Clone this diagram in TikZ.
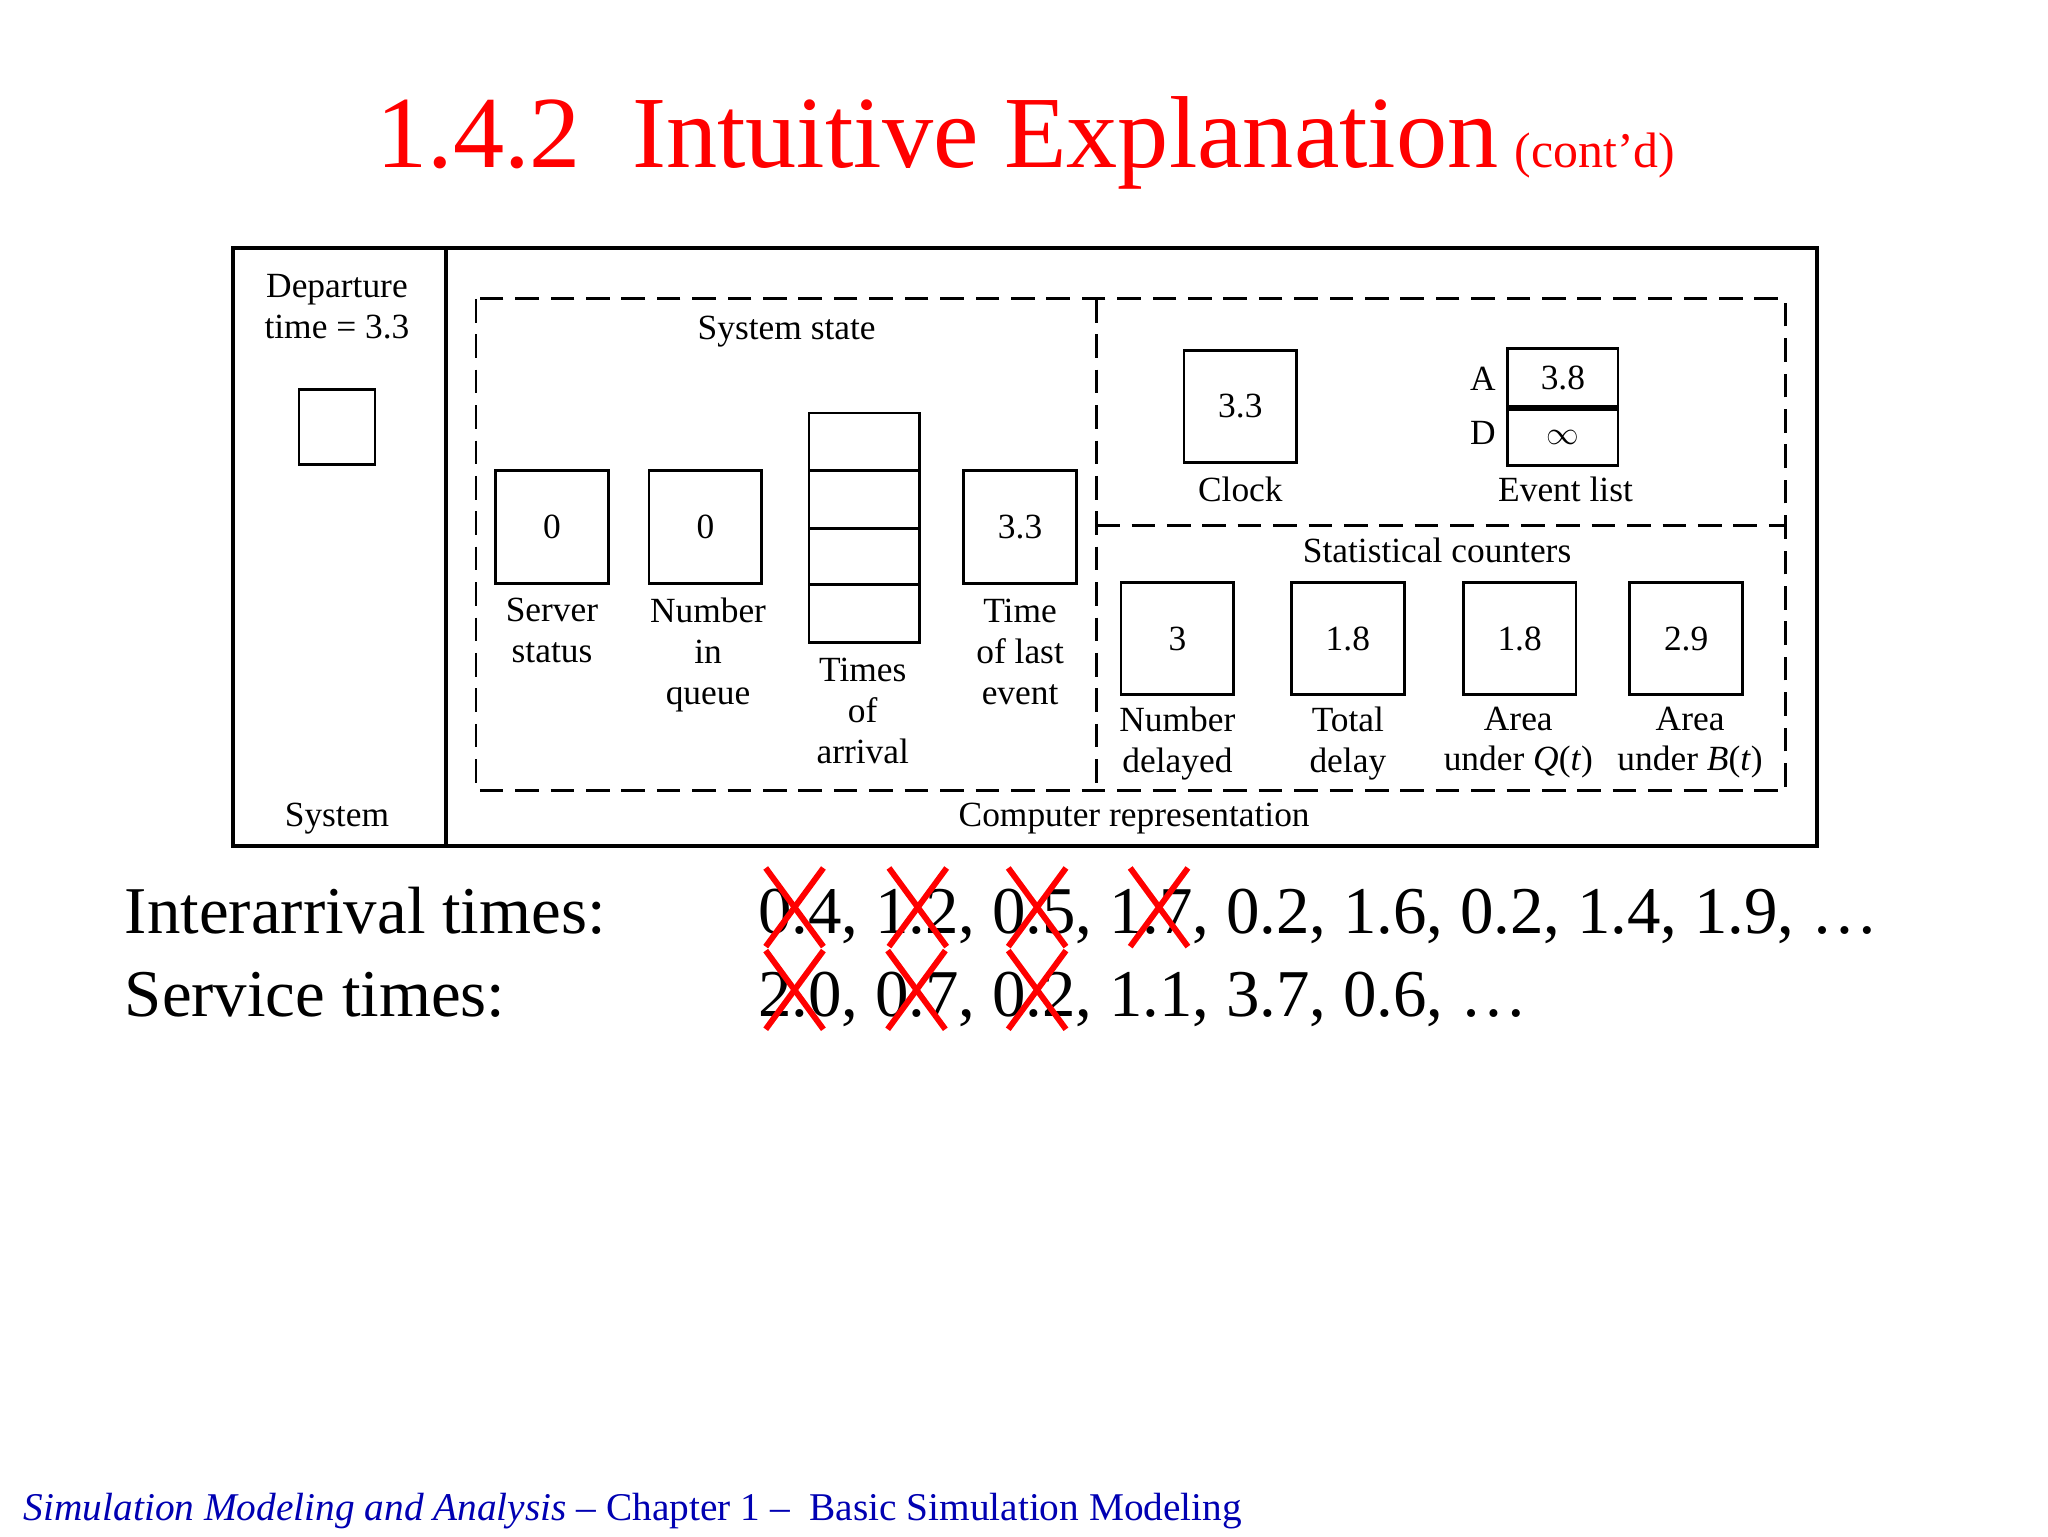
\documentclass[tikz,border=0pt]{standalone}
\usepackage{fontspec}
\setmainfont{Liberation Serif}
\begin{document}
\begin{tikzpicture}[x=1pt,y=-1pt,
  lbl/.style={font=\fontsize{27}{31}\selectfont, align=center, inner sep=0pt},
  bx/.style={draw, line width=2.2pt},
  dsh/.style={draw, line width=2.2pt, dash pattern=on 18pt off 9pt},
  cross/.style={red, line width=4.5pt}]
\useasboundingbox (0,0) rectangle (1562,1171.5);
% title
\node[red, anchor=base east, inner sep=0pt] (title) at (1143,128) {\fontsize{78}{90}\selectfont 1.4.2\ \ Intuitive Explanation};
\node[red, anchor=base west, inner sep=0pt] (contd) at (1155,128) {\fontsize{38}{40}\selectfont (cont'd)};
% outer frame
\draw[line width=3pt] (178,189) rectangle (1386,645);
\draw[line width=3pt] (340,189) -- (340,645);
\node[lbl] (dep) at (257,234) {Departure\\time = 3.3};
\draw[bx] (228,297) rectangle (286,354);
\node[lbl] (sys) at (257,624) {System};
% dashed regions
\draw[dsh] (363,228) rectangle (1362,603);
\draw[dsh] (836,228) -- (836,603);
\draw[dsh] (836,401) -- (1362,401);
\node[lbl] (ss) at (600,253) {System state};
% system state boxes
\node[bx, minimum size=86pt, inner sep=0pt, font=\fontsize{27}{31}\selectfont] (srv) at (421,402) {0};
\node[bx, minimum size=86pt, inner sep=0pt, font=\fontsize{27}{31}\selectfont] (nq) at (538,402) {0};
\draw[bx] (617,315) rectangle (701,490);
\draw[bx] (617,359) -- (701,359);
\draw[bx] (617,403) -- (701,403);
\draw[bx] (617,446) -- (701,446);
\node[bx, minimum size=86pt, inner sep=0pt, font=\fontsize{27}{31}\selectfont] (tl) at (778,402) {3.3};
\node[lbl, anchor=north] at (421,456) {Server\\status};
\node[lbl, anchor=north] at (540,456) {Number\\in\\queue};
\node[lbl, anchor=north] at (658,502) {Times\\of\\arrival};
\node[lbl, anchor=north] at (778,457) {Time\\of last\\event};
% clock & event list
\node[bx, minimum size=86pt, inner sep=0pt, font=\fontsize{27}{31}\selectfont] (clk) at (946,310) {3.3};
\node[lbl] at (946,373) {Clock};
\node[bx, minimum width=84pt, minimum height=44pt, inner sep=0pt, font=\fontsize{27}{31}\selectfont] (ea) at (1192,288) {3.8};
\node[bx, minimum width=84pt, minimum height=43pt, inner sep=0pt, font=\fontsize{27}{31}\selectfont, anchor=north] (ed) at (ea.south) {$\infty$};
\node[lbl] at (1131,289) {A};
\node[lbl] at (1131,330) {D};
\node[lbl] at (1194,373) {Event list};
% statistical counters
\node[lbl] at (1096,420) {Statistical counters};
\foreach \x/\v/\n in {898/3/c1,1028/1.8/c2,1159/1.8/c3,1286/2.9/c4}
  \node[bx, minimum size=86pt, inner sep=0pt, font=\fontsize{27}{31}\selectfont] (\n) at (\x,487) {\v};
\node[lbl, anchor=north] at (898,539) {Number\\delayed};
\node[lbl, anchor=north] at (1028,539) {Total\\delay};
\node[lbl, anchor=north] at (1158,539) {Area\\under \textit{Q}(\textit{t})};
\node[lbl, anchor=north] at (1289,539) {Area\\under \textit{B}(\textit{t})};
\node[lbl] at (865,624) {Computer representation};
% times
\node[anchor=base west, inner sep=0pt, font=\fontsize{51}{55}\selectfont] (ia) at (95,712) {Interarrival times:};
\node[anchor=base west, inner sep=0pt, font=\fontsize{51}{55}\selectfont] (ian) at (578,712) {0.4, 1.2, 0.5, 1.7, 0.2, 1.6, 0.2, 1.4, 1.9, \dots};
\node[anchor=base west, inner sep=0pt, font=\fontsize{51}{55}\selectfont] (st) at (95,775) {Service times:};
\node[anchor=base west, inner sep=0pt, font=\fontsize{51}{55}\selectfont] (stn) at (578,775) {2.0, 0.7, 0.2, 1.1, 3.7, 0.6, \dots};
\foreach \x/\y in {606/692,700/692,791/692,884/692,606/755,699/755,791/755}{
  \draw[cross] (\x-22,\y-30) -- (\x+22,\y+30);
  \draw[cross] (\x+22,\y-30) -- (\x-22,\y+30);
}
% footer
\node[anchor=base west, inner sep=0pt, font=\fontsize{30}{34}\selectfont, blue!70!black] (foot) at (18,1160) {\textit{Simulation Modeling and Analysis} -- Chapter 1 --\ \ Basic Simulation Modeling};
\end{tikzpicture}
\end{document}
